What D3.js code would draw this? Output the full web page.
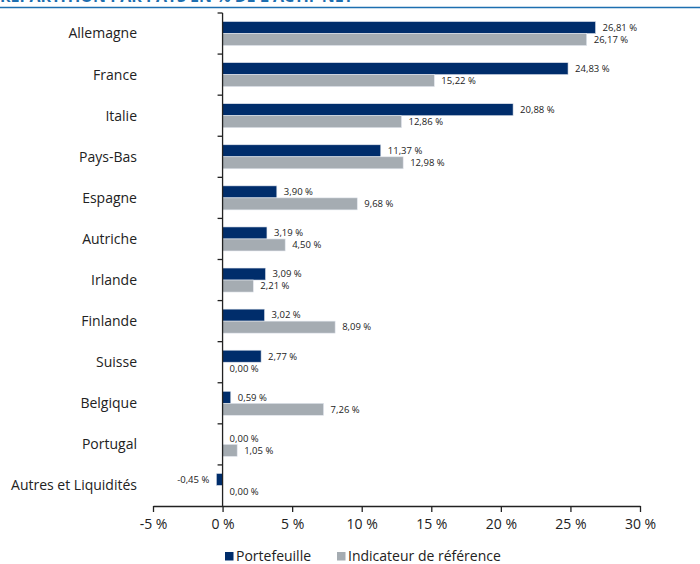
<!DOCTYPE html>
<html>
<head>
<meta charset="utf-8">
<script src="https://cdn.jsdelivr.net/npm/d3@7"></script>
<style>
  body { margin: 0; background: #fff; }
  svg { display: block; font-family: "Open Sans", "Noto Sans", sans-serif; }
</style>
</head>
<body>
<div id="chart-area"></div>
<script>
// data
const countries = ["Allemagne", "France", "Italie", "Pays-Bas", "Espagne", "Autriche",
    "Irlande", "Finlande", "Suisse", "Belgique", "Portugal", "Autres et Liquidités"];
const portefeuille = [26.81, 24.83, 20.88, 11.37, 3.90, 3.19, 3.09, 3.02, 2.77, 0.59, 0.00, -0.45];
const indicateur = [26.17, 15.22, 12.86, 12.98, 9.68, 4.50, 2.21, 8.09, 0.00, 7.26, 1.05, 0.00];
const xTicks = [-5, 0, 5, 10, 15, 20, 25, 30];
const seriesNames = ["Portefeuille", "Indicateur de référence"];
const colors = ["#002d6b", "#a5acb2"];

const full_width = 700, full_height = 564;
const margin = { left: 153, right: 60, top: 13, bottom: 58 };
const width = full_width - margin.left - margin.right,
    height = full_height - margin.top - margin.bottom;

const svg = d3.select("#chart-area")
    .append("svg")
    .attr("width", full_width)
    .attr("height", full_height);

// title (cut off at top) + rule
svg.append("text")
    .attr("x", 0)
    .attr("y", 2)
    .attr("font-size", "16px")
    .attr("font-weight", "bold")
    .attr("fill", "#1d6fb0")
    .text("RÉPARTITION PAR PAYS EN % DE L'ACTIF NET");
svg.append("line")
    .attr("x1", 0).attr("x2", full_width)
    .attr("y1", 7.5).attr("y2", 7.5)
    .attr("stroke", "#1d6fb0")
    .attr("stroke-width", 1.5);

const g = svg.append("g")
    .attr("transform", "translate(" + margin.left + ", " + margin.top + ")");

const x = d3.scaleLinear()
    .domain([-5, 30])
    .range([0, width]);

const y = d3.scaleBand()
    .domain(countries)
    .range([0, height]);

const ySub = d3.scaleBand()
    .domain([0, 1])
    .range([0, y.bandwidth()])
    .paddingOuter(0.71);

const fmt = v => v.toFixed(2).replace(".", ",") + " %";

const rows = countries.map((c, i) => ({ name: c, values: [portefeuille[i], indicateur[i]] }));

const groups = g.selectAll("g.row")
    .data(rows)
    .enter().append("g")
    .attr("class", "row")
    .attr("transform", d => "translate(0," + y(d.name) + ")");

groups.selectAll("rect")
    .data(d => d.values.map((v, k) => ({ v: v, k: k })))
    .enter().append("rect")
    .attr("x", d => x(Math.min(0, d.v)))
    .attr("y", d => ySub(d.k))
    .attr("width", d => Math.abs(x(d.v) - x(0)))
    .attr("height", ySub.bandwidth())
    .attr("fill", d => colors[d.k])
    .attr("stroke", d => d.v === 0 ? "none" : "#e3e7ee")
    .attr("stroke-width", 0.6);

groups.selectAll("text.val")
    .data(d => d.values.map((v, k) => ({ v: v, k: k })))
    .enter().append("text")
    .attr("class", "val")
    .attr("x", d => d.v < 0 ? x(d.v) - 7 : x(d.v) + 7)
    .attr("y", d => ySub(d.k) + ySub.bandwidth() / 2)
    .attr("dy", "0.35em")
    .attr("text-anchor", d => d.v < 0 ? "end" : "start")
    .attr("font-size", "9.5px")
    .attr("fill", "#222")
    .text(d => fmt(d.v));

// category labels
g.selectAll("text.cat")
    .data(countries)
    .enter().append("text")
    .attr("class", "cat")
    .attr("x", -16)
    .attr("y", d => y(d) + y.bandwidth() / 2)
    .attr("dy", "0.35em")
    .attr("text-anchor", "end")
    .attr("font-size", "14px")
    .attr("fill", "#222")
    .text(d => d);

// x axis
const xAxisCall = d3.axisBottom(x)
    .tickValues(xTicks)
    .tickSize(6)
    .tickSizeOuter(0)
    .tickFormat(d => d + " %");
const xAxis = g.append("g")
    .attr("class", "x axis")
    .attr("transform", "translate(0, " + height + ")")
    .call(xAxisCall);
xAxis.select(".domain").attr("stroke", "#222").attr("stroke-width", 1.3);
xAxis.selectAll(".tick line").attr("stroke", "#222").attr("stroke-width", 1.3);
xAxis.selectAll("text")
    .attr("font-size", "14px")
    .attr("font-family", "'Open Sans', sans-serif")
    .attr("fill", "#222")
    .attr("y", 13);

// y axis at zero, ticks on category boundaries
const yAxis = g.append("g")
    .attr("class", "y axis")
    .attr("transform", "translate(" + x(0) + ",0)");
yAxis.append("line")
    .attr("y1", 0).attr("y2", height)
    .attr("stroke", "#222").attr("stroke-width", 1.3);
yAxis.selectAll("line.tk")
    .data(countries)
    .enter().append("line")
    .attr("class", "tk")
    .attr("x1", -5).attr("x2", 0)
    .attr("y1", d => y(d)).attr("y2", d => y(d))
    .attr("stroke", "#222").attr("stroke-width", 1.3);

// legend
const legend = svg.append("g")
    .attr("transform", "translate(225, 552)");
const legendX = [0, 112];
seriesNames.forEach((s, i) => {
    legend.append("rect")
        .attr("x", legendX[i]).attr("y", 0)
        .attr("width", 8.5).attr("height", 8.5)
        .attr("fill", colors[i]);
    legend.append("text")
        .attr("x", legendX[i] + 11).attr("y", 4.5)
        .attr("dy", "0.35em")
        .attr("font-size", "14px")
        .attr("fill", "#222")
        .text(s);
});
</script>
</body>
</html>
